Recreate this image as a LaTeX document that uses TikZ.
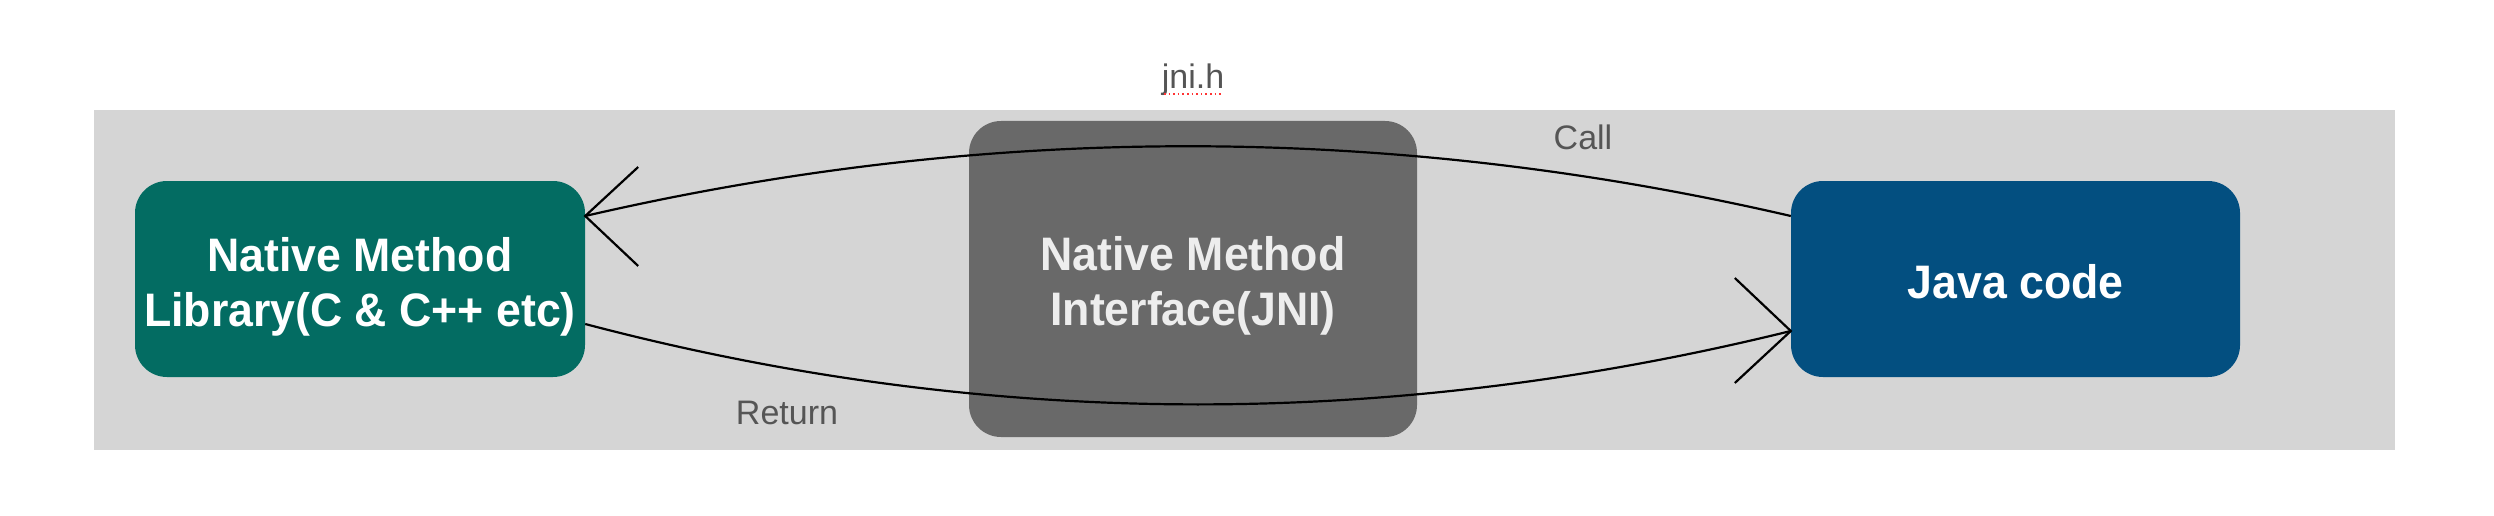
\documentclass[tikz,border=0pt]{standalone}
\usepackage{fontspec}
\setmainfont{Liberation Sans}
\newfontfamily\boxfont{Liberation Sans}[FakeStretch=0.95]
\definecolor{bgray}{HTML}{D5D5D5}
\definecolor{nmgreen}{HTML}{036C62}
\definecolor{jblue}{HTML}{034F80}
\definecolor{jnigray}{HTML}{696969}
\definecolor{lblgray}{HTML}{555555}
\begin{document}
\begin{tikzpicture}[x=1pt,y=-1pt,
  boxstyle/.style={rectangle,rounded corners=32pt,inner sep=0pt},
  boxtext/.style={inner sep=0pt,align=center,
    font=\boxfont\fontsize{47}{55}\selectfont\bfseries},
  lbl/.style={text=lblgray,font=\fontsize{34}{40}\selectfont,inner sep=0pt},
  conn/.style={line width=2.2pt,black},
  headline/.style={line width=2.2pt,black}]
\useasboundingbox (0,0) rectangle (2494,516);
\fill[bgray] (94,110) rectangle (2395,450);
\node[boxstyle,fill=nmgreen,minimum width=450pt,minimum height=196pt] (lib) at (360,279) {};
\node[boxtext,text=white] (libtxt) at ([yshift=-8pt]lib.center) {Native Method\\Library(C \& C++ etc)};
\node[boxstyle,fill=jnigray,minimum width=448pt,minimum height=316pt] (jni) at (1193,279) {};
\node[boxtext,text=white!93!black] (jnitxt) at ([yshift=-7pt]jni.center) {Native Method\\Interface(JNI)};
\node[boxstyle,fill=jblue,minimum width=449pt,minimum height=196pt] (java) at (2015.5,279) {};
\node[boxtext,text=white] (javatxt) at ([yshift=-3pt]java.center) {Java code};
\node[lbl] (jnih) at (1193,80) {jni.h};
\draw[red!80,line width=1.6pt,dash pattern=on 1.6pt off 3pt] ([xshift=-29pt,yshift=2pt]jnih.south) -- ([xshift=30pt,yshift=2pt]jnih.south);
\node[lbl] (call) at (1583,137) {Call};
\node[lbl] (ret) at (787,413) {Return};
% Call
\coordinate (cs) at ([yshift=63pt]java.west);
\coordinate (ce) at ([yshift=63pt]lib.east);
\draw[conn] (cs) .. controls (1389,123) and (987,123) .. (ce);
\draw[headline] ([xshift=53pt,yshift=49pt]ce) -- (ce) -- ([xshift=53pt,yshift=-50pt]ce);
% Return
\coordinate (rs) at ([yshift=-45pt]lib.east);
\coordinate (re) at ([yshift=-52pt]java.west);
\draw[conn] (rs) .. controls (987,430) and (1389,430) .. (re);
\draw[headline] ([xshift=-56pt,yshift=53pt]re) -- (re) -- ([xshift=-56pt,yshift=-52pt]re);
\end{tikzpicture}
\end{document}
